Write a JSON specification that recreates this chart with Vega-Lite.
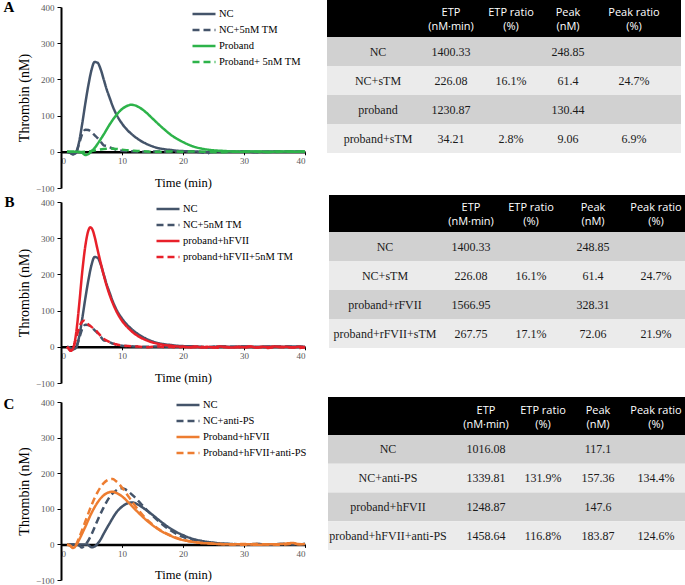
{
"$schema":"https://vega.github.io/schema/vega-lite/v6.json",
"padding":{"left":3,"top":0,"right":0,"bottom":0},
"config":{"view":{"stroke":null},
 "legend":{"title":null,"orient":"none","symbolType":"stroke","symbolSize":529,"symbolStrokeWidth":2.5,"labelFont":"Liberation Serif","labelFontSize":10.5,"labelColor":"black","labelOffset":2,"rowPadding":0,"clipHeight":16},
 "title":{"font":"Liberation Serif","fontSize":15,"fontWeight":"bold","color":"black"}
},
"datasets":{
"cA":[
{"s":"NC","t":1,"v":0},{"s":"NC","t":1.5,"v":-3},{"s":"NC","t":2,"v":-7},{"s":"NC","t":2.5,"v":-2},{"s":"NC","t":3,"v":30},{"s":"NC","t":3.5,"v":80},{"s":"NC","t":4,"v":135},{"s":"NC","t":4.5,"v":185},{"s":"NC","t":5,"v":226},{"s":"NC","t":5.5,"v":248},{"s":"NC","t":6,"v":246},{"s":"NC","t":6.5,"v":228},{"s":"NC","t":7,"v":200},{"s":"NC","t":7.5,"v":172},{"s":"NC","t":8,"v":148},{"s":"NC","t":8.5,"v":125},{"s":"NC","t":9,"v":106},{"s":"NC","t":10,"v":78},{"s":"NC","t":11,"v":58},{"s":"NC","t":12,"v":43},{"s":"NC","t":13,"v":31},{"s":"NC","t":14,"v":22},{"s":"NC","t":15,"v":15},{"s":"NC","t":16,"v":10},{"s":"NC","t":17,"v":7},{"s":"NC","t":18,"v":5},{"s":"NC","t":19,"v":3},{"s":"NC","t":20,"v":2},{"s":"NC","t":22,"v":1},{"s":"NC","t":24,"v":-1},{"s":"NC","t":26,"v":1},{"s":"NC","t":28,"v":0},{"s":"NC","t":30,"v":1},{"s":"NC","t":32,"v":0},{"s":"NC","t":34,"v":1},{"s":"NC","t":36,"v":0},{"s":"NC","t":38,"v":1},{"s":"NC","t":40,"v":0},
{"s":"NC+5nM TM","t":1,"v":0},{"s":"NC+5nM TM","t":1.5,"v":-3},{"s":"NC+5nM TM","t":2,"v":-7},{"s":"NC+5nM TM","t":2.5,"v":0},{"s":"NC+5nM TM","t":3,"v":25},{"s":"NC+5nM TM","t":3.5,"v":50},{"s":"NC+5nM TM","t":4,"v":61},{"s":"NC+5nM TM","t":4.5,"v":60},{"s":"NC+5nM TM","t":5,"v":54},{"s":"NC+5nM TM","t":5.5,"v":46},{"s":"NC+5nM TM","t":6,"v":38},{"s":"NC+5nM TM","t":6.5,"v":28},{"s":"NC+5nM TM","t":7,"v":18},{"s":"NC+5nM TM","t":7.5,"v":16},{"s":"NC+5nM TM","t":8,"v":12},{"s":"NC+5nM TM","t":8.5,"v":9},{"s":"NC+5nM TM","t":9,"v":6},{"s":"NC+5nM TM","t":10,"v":3},{"s":"NC+5nM TM","t":11,"v":2},{"s":"NC+5nM TM","t":12,"v":1},{"s":"NC+5nM TM","t":14,"v":0},{"s":"NC+5nM TM","t":16,"v":1},{"s":"NC+5nM TM","t":18,"v":0},{"s":"NC+5nM TM","t":20,"v":1},{"s":"NC+5nM TM","t":22,"v":0},{"s":"NC+5nM TM","t":23,"v":-1},{"s":"NC+5nM TM","t":24,"v":-5},{"s":"NC+5nM TM","t":24.5,"v":0},{"s":"NC+5nM TM","t":26,"v":1},{"s":"NC+5nM TM","t":28,"v":0},{"s":"NC+5nM TM","t":30,"v":1},{"s":"NC+5nM TM","t":32,"v":-1},{"s":"NC+5nM TM","t":34,"v":0},{"s":"NC+5nM TM","t":36,"v":1},{"s":"NC+5nM TM","t":38,"v":0},{"s":"NC+5nM TM","t":40,"v":0},
{"s":"Proband","t":1,"v":0},{"s":"Proband","t":2,"v":0},{"s":"Proband","t":3,"v":0},{"s":"Proband","t":3.5,"v":-3},{"s":"Proband","t":4,"v":-9},{"s":"Proband","t":4.5,"v":-6},{"s":"Proband","t":5,"v":2},{"s":"Proband","t":5.5,"v":10},{"s":"Proband","t":6,"v":22},{"s":"Proband","t":7,"v":48},{"s":"Proband","t":8,"v":76},{"s":"Proband","t":9,"v":100},{"s":"Proband","t":10,"v":118},{"s":"Proband","t":11,"v":128},{"s":"Proband","t":11.5,"v":130},{"s":"Proband","t":12,"v":129},{"s":"Proband","t":13,"v":121},{"s":"Proband","t":14,"v":108},{"s":"Proband","t":15,"v":92},{"s":"Proband","t":16,"v":76},{"s":"Proband","t":17,"v":61},{"s":"Proband","t":18,"v":47},{"s":"Proband","t":19,"v":36},{"s":"Proband","t":20,"v":27},{"s":"Proband","t":21,"v":19},{"s":"Proband","t":22,"v":13},{"s":"Proband","t":23,"v":9},{"s":"Proband","t":24,"v":6},{"s":"Proband","t":25,"v":4},{"s":"Proband","t":26,"v":3},{"s":"Proband","t":27,"v":2},{"s":"Proband","t":28,"v":1},{"s":"Proband","t":30,"v":0},{"s":"Proband","t":32,"v":1},{"s":"Proband","t":34,"v":0},{"s":"Proband","t":36,"v":1},{"s":"Proband","t":38,"v":0},{"s":"Proband","t":40,"v":1},
{"s":"Proband+ 5nM TM","t":1,"v":0},{"s":"Proband+ 5nM TM","t":2,"v":0},{"s":"Proband+ 5nM TM","t":3,"v":-1},{"s":"Proband+ 5nM TM","t":4,"v":0},{"s":"Proband+ 5nM TM","t":5,"v":2},{"s":"Proband+ 5nM TM","t":6,"v":5},{"s":"Proband+ 5nM TM","t":7,"v":8},{"s":"Proband+ 5nM TM","t":8,"v":9},{"s":"Proband+ 5nM TM","t":9,"v":8},{"s":"Proband+ 5nM TM","t":10,"v":6},{"s":"Proband+ 5nM TM","t":11,"v":4},{"s":"Proband+ 5nM TM","t":12,"v":3},{"s":"Proband+ 5nM TM","t":13,"v":2},{"s":"Proband+ 5nM TM","t":14,"v":1},{"s":"Proband+ 5nM TM","t":16,"v":0},{"s":"Proband+ 5nM TM","t":18,"v":1},{"s":"Proband+ 5nM TM","t":20,"v":0},{"s":"Proband+ 5nM TM","t":22,"v":1},{"s":"Proband+ 5nM TM","t":24,"v":0},{"s":"Proband+ 5nM TM","t":26,"v":-1},{"s":"Proband+ 5nM TM","t":28,"v":0},{"s":"Proband+ 5nM TM","t":30,"v":1},{"s":"Proband+ 5nM TM","t":32,"v":0},{"s":"Proband+ 5nM TM","t":34,"v":-1},{"s":"Proband+ 5nM TM","t":36,"v":0},{"s":"Proband+ 5nM TM","t":38,"v":1},{"s":"Proband+ 5nM TM","t":40,"v":0}
],
"cB":[
{"s":"NC","t":1,"v":0},{"s":"NC","t":1.5,"v":-3},{"s":"NC","t":2,"v":-7},{"s":"NC","t":2.5,"v":-2},{"s":"NC","t":3,"v":30},{"s":"NC","t":3.5,"v":80},{"s":"NC","t":4,"v":135},{"s":"NC","t":4.5,"v":185},{"s":"NC","t":5,"v":226},{"s":"NC","t":5.5,"v":248},{"s":"NC","t":6,"v":246},{"s":"NC","t":6.5,"v":228},{"s":"NC","t":7,"v":200},{"s":"NC","t":7.5,"v":172},{"s":"NC","t":8,"v":148},{"s":"NC","t":8.5,"v":125},{"s":"NC","t":9,"v":106},{"s":"NC","t":10,"v":78},{"s":"NC","t":11,"v":58},{"s":"NC","t":12,"v":43},{"s":"NC","t":13,"v":31},{"s":"NC","t":14,"v":22},{"s":"NC","t":15,"v":15},{"s":"NC","t":16,"v":10},{"s":"NC","t":17,"v":7},{"s":"NC","t":18,"v":5},{"s":"NC","t":19,"v":3},{"s":"NC","t":20,"v":2},{"s":"NC","t":22,"v":1},{"s":"NC","t":24,"v":-1},{"s":"NC","t":26,"v":1},{"s":"NC","t":28,"v":0},{"s":"NC","t":30,"v":1},{"s":"NC","t":32,"v":0},{"s":"NC","t":34,"v":1},{"s":"NC","t":36,"v":0},{"s":"NC","t":38,"v":1},{"s":"NC","t":40,"v":0},
{"s":"NC+5nM TM","t":1,"v":0},{"s":"NC+5nM TM","t":1.5,"v":-3},{"s":"NC+5nM TM","t":2,"v":-7},{"s":"NC+5nM TM","t":2.5,"v":0},{"s":"NC+5nM TM","t":3,"v":25},{"s":"NC+5nM TM","t":3.5,"v":50},{"s":"NC+5nM TM","t":4,"v":61},{"s":"NC+5nM TM","t":4.5,"v":60},{"s":"NC+5nM TM","t":5,"v":54},{"s":"NC+5nM TM","t":5.5,"v":46},{"s":"NC+5nM TM","t":6,"v":38},{"s":"NC+5nM TM","t":6.5,"v":28},{"s":"NC+5nM TM","t":7,"v":18},{"s":"NC+5nM TM","t":7.5,"v":16},{"s":"NC+5nM TM","t":8,"v":12},{"s":"NC+5nM TM","t":8.5,"v":9},{"s":"NC+5nM TM","t":9,"v":6},{"s":"NC+5nM TM","t":10,"v":3},{"s":"NC+5nM TM","t":11,"v":2},{"s":"NC+5nM TM","t":12,"v":1},{"s":"NC+5nM TM","t":14,"v":0},{"s":"NC+5nM TM","t":16,"v":1},{"s":"NC+5nM TM","t":18,"v":0},{"s":"NC+5nM TM","t":20,"v":1},{"s":"NC+5nM TM","t":22,"v":0},{"s":"NC+5nM TM","t":24,"v":-1},{"s":"NC+5nM TM","t":26,"v":1},{"s":"NC+5nM TM","t":28,"v":0},{"s":"NC+5nM TM","t":30,"v":1},{"s":"NC+5nM TM","t":32,"v":-1},{"s":"NC+5nM TM","t":34,"v":0},{"s":"NC+5nM TM","t":36,"v":1},{"s":"NC+5nM TM","t":38,"v":0},{"s":"NC+5nM TM","t":40,"v":0},
{"s":"proband+hFVII","t":1,"v":0},{"s":"proband+hFVII","t":1.3,"v":-6},{"s":"proband+hFVII","t":1.6,"v":-11},{"s":"proband+hFVII","t":2,"v":-4},{"s":"proband+hFVII","t":2.5,"v":40},{"s":"proband+hFVII","t":3,"v":120},{"s":"proband+hFVII","t":3.5,"v":210},{"s":"proband+hFVII","t":4,"v":280},{"s":"proband+hFVII","t":4.5,"v":322},{"s":"proband+hFVII","t":4.8,"v":330},{"s":"proband+hFVII","t":5.2,"v":322},{"s":"proband+hFVII","t":5.5,"v":305},{"s":"proband+hFVII","t":6,"v":268},{"s":"proband+hFVII","t":6.5,"v":232},{"s":"proband+hFVII","t":7,"v":198},{"s":"proband+hFVII","t":7.5,"v":168},{"s":"proband+hFVII","t":8,"v":142},{"s":"proband+hFVII","t":8.5,"v":120},{"s":"proband+hFVII","t":9,"v":101},{"s":"proband+hFVII","t":10,"v":72},{"s":"proband+hFVII","t":11,"v":52},{"s":"proband+hFVII","t":12,"v":37},{"s":"proband+hFVII","t":13,"v":26},{"s":"proband+hFVII","t":14,"v":18},{"s":"proband+hFVII","t":15,"v":12},{"s":"proband+hFVII","t":16,"v":8},{"s":"proband+hFVII","t":17,"v":5},{"s":"proband+hFVII","t":18,"v":3},{"s":"proband+hFVII","t":19,"v":1},{"s":"proband+hFVII","t":20,"v":0},{"s":"proband+hFVII","t":21,"v":-1},{"s":"proband+hFVII","t":22,"v":1},{"s":"proband+hFVII","t":23,"v":-2},{"s":"proband+hFVII","t":24,"v":0},{"s":"proband+hFVII","t":25,"v":-2},{"s":"proband+hFVII","t":26,"v":1},{"s":"proband+hFVII","t":27,"v":-1},{"s":"proband+hFVII","t":28,"v":-2},{"s":"proband+hFVII","t":29,"v":0},{"s":"proband+hFVII","t":30,"v":-1},{"s":"proband+hFVII","t":31,"v":1},{"s":"proband+hFVII","t":32,"v":-2},{"s":"proband+hFVII","t":33,"v":0},{"s":"proband+hFVII","t":34,"v":-1},{"s":"proband+hFVII","t":35,"v":1},{"s":"proband+hFVII","t":36,"v":-1},{"s":"proband+hFVII","t":37,"v":0},{"s":"proband+hFVII","t":38,"v":-2},{"s":"proband+hFVII","t":39,"v":0},{"s":"proband+hFVII","t":40,"v":-1},
{"s":"proband+hFVII+5nM TM","t":1,"v":0},{"s":"proband+hFVII+5nM TM","t":1.3,"v":-6},{"s":"proband+hFVII+5nM TM","t":1.6,"v":-11},{"s":"proband+hFVII+5nM TM","t":2,"v":-3},{"s":"proband+hFVII+5nM TM","t":2.5,"v":25},{"s":"proband+hFVII+5nM TM","t":3,"v":55},{"s":"proband+hFVII+5nM TM","t":3.5,"v":70},{"s":"proband+hFVII+5nM TM","t":3.8,"v":72},{"s":"proband+hFVII+5nM TM","t":4.2,"v":66},{"s":"proband+hFVII+5nM TM","t":4.6,"v":60},{"s":"proband+hFVII+5nM TM","t":5,"v":55},{"s":"proband+hFVII+5nM TM","t":5.5,"v":48},{"s":"proband+hFVII+5nM TM","t":6,"v":40},{"s":"proband+hFVII+5nM TM","t":6.5,"v":30},{"s":"proband+hFVII+5nM TM","t":7,"v":22},{"s":"proband+hFVII+5nM TM","t":7.5,"v":17},{"s":"proband+hFVII+5nM TM","t":8,"v":13},{"s":"proband+hFVII+5nM TM","t":8.5,"v":10},{"s":"proband+hFVII+5nM TM","t":9,"v":7},{"s":"proband+hFVII+5nM TM","t":10,"v":4},{"s":"proband+hFVII+5nM TM","t":11,"v":2},{"s":"proband+hFVII+5nM TM","t":12,"v":1},{"s":"proband+hFVII+5nM TM","t":13,"v":0},{"s":"proband+hFVII+5nM TM","t":14,"v":-1},{"s":"proband+hFVII+5nM TM","t":15,"v":0},{"s":"proband+hFVII+5nM TM","t":16,"v":1},{"s":"proband+hFVII+5nM TM","t":17,"v":-1},{"s":"proband+hFVII+5nM TM","t":18,"v":0},{"s":"proband+hFVII+5nM TM","t":19,"v":-2},{"s":"proband+hFVII+5nM TM","t":20,"v":0},{"s":"proband+hFVII+5nM TM","t":21,"v":-2},{"s":"proband+hFVII+5nM TM","t":22,"v":-1},{"s":"proband+hFVII+5nM TM","t":23,"v":0},{"s":"proband+hFVII+5nM TM","t":24,"v":-2},{"s":"proband+hFVII+5nM TM","t":25,"v":-1},{"s":"proband+hFVII+5nM TM","t":26,"v":-3},{"s":"proband+hFVII+5nM TM","t":27,"v":0},{"s":"proband+hFVII+5nM TM","t":28,"v":-2},{"s":"proband+hFVII+5nM TM","t":29,"v":-1},{"s":"proband+hFVII+5nM TM","t":30,"v":-3},{"s":"proband+hFVII+5nM TM","t":31,"v":0},{"s":"proband+hFVII+5nM TM","t":32,"v":-2},{"s":"proband+hFVII+5nM TM","t":33,"v":-1},{"s":"proband+hFVII+5nM TM","t":34,"v":-3},{"s":"proband+hFVII+5nM TM","t":35,"v":-1},{"s":"proband+hFVII+5nM TM","t":36,"v":0},{"s":"proband+hFVII+5nM TM","t":37,"v":-2},{"s":"proband+hFVII+5nM TM","t":38,"v":-1},{"s":"proband+hFVII+5nM TM","t":39,"v":-3},{"s":"proband+hFVII+5nM TM","t":40,"v":-1}
],
"cC":[
{"s":"NC","t":1,"v":0},{"s":"NC","t":2,"v":0},{"s":"NC","t":3,"v":0},{"s":"NC","t":4,"v":0},{"s":"NC","t":4.5,"v":-2},{"s":"NC","t":5,"v":-8},{"s":"NC","t":5.5,"v":-6},{"s":"NC","t":6,"v":2},{"s":"NC","t":6.5,"v":14},{"s":"NC","t":7,"v":30},{"s":"NC","t":8,"v":60},{"s":"NC","t":9,"v":88},{"s":"NC","t":10,"v":106},{"s":"NC","t":11,"v":116},{"s":"NC","t":11.7,"v":118},{"s":"NC","t":12.5,"v":113},{"s":"NC","t":13,"v":108},{"s":"NC","t":14,"v":96},{"s":"NC","t":15,"v":83},{"s":"NC","t":16,"v":69},{"s":"NC","t":17,"v":56},{"s":"NC","t":18,"v":44},{"s":"NC","t":19,"v":34},{"s":"NC","t":20,"v":26},{"s":"NC","t":21,"v":19},{"s":"NC","t":22,"v":14},{"s":"NC","t":23,"v":10},{"s":"NC","t":24,"v":7},{"s":"NC","t":25,"v":5},{"s":"NC","t":26,"v":3},{"s":"NC","t":27,"v":2},{"s":"NC","t":28,"v":1},{"s":"NC","t":30,"v":0},{"s":"NC","t":32,"v":1},{"s":"NC","t":34,"v":0},{"s":"NC","t":36,"v":1},{"s":"NC","t":38,"v":0},{"s":"NC","t":40,"v":1},
{"s":"NC+anti-PS","t":1,"v":0},{"s":"NC+anti-PS","t":2,"v":0},{"s":"NC+anti-PS","t":3,"v":-3},{"s":"NC+anti-PS","t":3.4,"v":-9},{"s":"NC+anti-PS","t":3.8,"v":-4},{"s":"NC+anti-PS","t":4.3,"v":6},{"s":"NC+anti-PS","t":5,"v":28},{"s":"NC+anti-PS","t":6,"v":68},{"s":"NC+anti-PS","t":7,"v":104},{"s":"NC+anti-PS","t":8,"v":134},{"s":"NC+anti-PS","t":9,"v":151},{"s":"NC+anti-PS","t":9.8,"v":158},{"s":"NC+anti-PS","t":10.5,"v":155},{"s":"NC+anti-PS","t":11,"v":149},{"s":"NC+anti-PS","t":12,"v":134},{"s":"NC+anti-PS","t":13,"v":116},{"s":"NC+anti-PS","t":14,"v":98},{"s":"NC+anti-PS","t":15,"v":81},{"s":"NC+anti-PS","t":16,"v":65},{"s":"NC+anti-PS","t":17,"v":51},{"s":"NC+anti-PS","t":18,"v":39},{"s":"NC+anti-PS","t":19,"v":29},{"s":"NC+anti-PS","t":20,"v":21},{"s":"NC+anti-PS","t":21,"v":15},{"s":"NC+anti-PS","t":22,"v":11},{"s":"NC+anti-PS","t":23,"v":8},{"s":"NC+anti-PS","t":24,"v":5},{"s":"NC+anti-PS","t":25,"v":4},{"s":"NC+anti-PS","t":26,"v":2},{"s":"NC+anti-PS","t":27,"v":1},{"s":"NC+anti-PS","t":28,"v":1},{"s":"NC+anti-PS","t":30,"v":0},{"s":"NC+anti-PS","t":32,"v":1},{"s":"NC+anti-PS","t":34,"v":0},{"s":"NC+anti-PS","t":36,"v":1},{"s":"NC+anti-PS","t":38,"v":3},{"s":"NC+anti-PS","t":39,"v":0},{"s":"NC+anti-PS","t":40,"v":1},
{"s":"Proband+hFVII","t":1,"v":0},{"s":"Proband+hFVII","t":1.5,"v":-3},{"s":"Proband+hFVII","t":2,"v":-10},{"s":"Proband+hFVII","t":2.5,"v":-2},{"s":"Proband+hFVII","t":3,"v":14},{"s":"Proband+hFVII","t":4,"v":50},{"s":"Proband+hFVII","t":5,"v":88},{"s":"Proband+hFVII","t":6,"v":118},{"s":"Proband+hFVII","t":7,"v":138},{"s":"Proband+hFVII","t":8,"v":147},{"s":"Proband+hFVII","t":8.5,"v":148},{"s":"Proband+hFVII","t":9,"v":145},{"s":"Proband+hFVII","t":10,"v":135},{"s":"Proband+hFVII","t":11,"v":119},{"s":"Proband+hFVII","t":12,"v":101},{"s":"Proband+hFVII","t":13,"v":84},{"s":"Proband+hFVII","t":14,"v":68},{"s":"Proband+hFVII","t":15,"v":54},{"s":"Proband+hFVII","t":16,"v":42},{"s":"Proband+hFVII","t":17,"v":32},{"s":"Proband+hFVII","t":18,"v":24},{"s":"Proband+hFVII","t":19,"v":17},{"s":"Proband+hFVII","t":20,"v":12},{"s":"Proband+hFVII","t":21,"v":9},{"s":"Proband+hFVII","t":22,"v":6},{"s":"Proband+hFVII","t":23,"v":4},{"s":"Proband+hFVII","t":24,"v":3},{"s":"Proband+hFVII","t":26,"v":1},{"s":"Proband+hFVII","t":28,"v":0},{"s":"Proband+hFVII","t":30,"v":1},{"s":"Proband+hFVII","t":32,"v":-1},{"s":"Proband+hFVII","t":34,"v":0},{"s":"Proband+hFVII","t":36,"v":1},{"s":"Proband+hFVII","t":38,"v":4},{"s":"Proband+hFVII","t":39,"v":0},{"s":"Proband+hFVII","t":40,"v":1},
{"s":"Proband+hFVII+anti-PS","t":1,"v":0},{"s":"Proband+hFVII+anti-PS","t":1.5,"v":-4},{"s":"Proband+hFVII+anti-PS","t":2,"v":-10},{"s":"Proband+hFVII+anti-PS","t":2.5,"v":0},{"s":"Proband+hFVII+anti-PS","t":3,"v":20},{"s":"Proband+hFVII+anti-PS","t":4,"v":65},{"s":"Proband+hFVII+anti-PS","t":5,"v":110},{"s":"Proband+hFVII+anti-PS","t":6,"v":147},{"s":"Proband+hFVII+anti-PS","t":7,"v":172},{"s":"Proband+hFVII+anti-PS","t":8,"v":183},{"s":"Proband+hFVII+anti-PS","t":8.5,"v":184},{"s":"Proband+hFVII+anti-PS","t":9,"v":178},{"s":"Proband+hFVII+anti-PS","t":10,"v":160},{"s":"Proband+hFVII+anti-PS","t":11,"v":136},{"s":"Proband+hFVII+anti-PS","t":12,"v":112},{"s":"Proband+hFVII+anti-PS","t":13,"v":90},{"s":"Proband+hFVII+anti-PS","t":14,"v":71},{"s":"Proband+hFVII+anti-PS","t":15,"v":56},{"s":"Proband+hFVII+anti-PS","t":16,"v":43},{"s":"Proband+hFVII+anti-PS","t":17,"v":33},{"s":"Proband+hFVII+anti-PS","t":18,"v":25},{"s":"Proband+hFVII+anti-PS","t":19,"v":18},{"s":"Proband+hFVII+anti-PS","t":20,"v":13},{"s":"Proband+hFVII+anti-PS","t":21,"v":9},{"s":"Proband+hFVII+anti-PS","t":22,"v":6},{"s":"Proband+hFVII+anti-PS","t":23,"v":4},{"s":"Proband+hFVII+anti-PS","t":24,"v":3},{"s":"Proband+hFVII+anti-PS","t":26,"v":1},{"s":"Proband+hFVII+anti-PS","t":28,"v":0},{"s":"Proband+hFVII+anti-PS","t":30,"v":-1},{"s":"Proband+hFVII+anti-PS","t":32,"v":1},{"s":"Proband+hFVII+anti-PS","t":34,"v":0},{"s":"Proband+hFVII+anti-PS","t":36,"v":-1},{"s":"Proband+hFVII+anti-PS","t":38,"v":2},{"s":"Proband+hFVII+anti-PS","t":40,"v":0}
],
"hdr":[{"col":1,"h":"ETP\n(nM·min)"},{"col":2,"h":"ETP ratio\n(%)"},{"col":3,"h":"Peak\n(nM)"},{"col":4,"h":"Peak ratio\n(%)"}],
"tA":[
{"row":"NC","col":0,"text":"NC"},{"row":"NC","col":1,"text":"1400.33"},{"row":"NC","col":3,"text":"248.85"},
{"row":"NC+sTM","col":0,"text":"NC+sTM"},{"row":"NC+sTM","col":1,"text":"226.08"},{"row":"NC+sTM","col":2,"text":"16.1%"},{"row":"NC+sTM","col":3,"text":"61.4"},{"row":"NC+sTM","col":4,"text":"24.7%"},
{"row":"proband","col":0,"text":"proband"},{"row":"proband","col":1,"text":"1230.87"},{"row":"proband","col":3,"text":"130.44"},
{"row":"proband+sTM","col":0,"text":"proband+sTM"},{"row":"proband+sTM","col":1,"text":"34.21"},{"row":"proband+sTM","col":2,"text":"2.8%"},{"row":"proband+sTM","col":3,"text":"9.06"},{"row":"proband+sTM","col":4,"text":"6.9%"}
],
"tB":[
{"row":"NC","col":0,"text":"NC"},{"row":"NC","col":1,"text":"1400.33"},{"row":"NC","col":3,"text":"248.85"},
{"row":"NC+sTM","col":0,"text":"NC+sTM"},{"row":"NC+sTM","col":1,"text":"226.08"},{"row":"NC+sTM","col":2,"text":"16.1%"},{"row":"NC+sTM","col":3,"text":"61.4"},{"row":"NC+sTM","col":4,"text":"24.7%"},
{"row":"proband+rFVII","col":0,"text":"proband+rFVII"},{"row":"proband+rFVII","col":1,"text":"1566.95"},{"row":"proband+rFVII","col":3,"text":"328.31"},
{"row":"proband+rFVII+sTM","col":0,"text":"proband+rFVII+sTM"},{"row":"proband+rFVII+sTM","col":1,"text":"267.75"},{"row":"proband+rFVII+sTM","col":2,"text":"17.1%"},{"row":"proband+rFVII+sTM","col":3,"text":"72.06"},{"row":"proband+rFVII+sTM","col":4,"text":"21.9%"}
],
"tC":[
{"row":"NC","col":0,"text":"NC"},{"row":"NC","col":1,"text":"1016.08"},{"row":"NC","col":3,"text":"117.1"},
{"row":"NC+anti-PS","col":0,"text":"NC+anti-PS"},{"row":"NC+anti-PS","col":1,"text":"1339.81"},{"row":"NC+anti-PS","col":2,"text":"131.9%"},{"row":"NC+anti-PS","col":3,"text":"157.36"},{"row":"NC+anti-PS","col":4,"text":"134.4%"},
{"row":"proband+hFVII","col":0,"text":"proband+hFVII"},{"row":"proband+hFVII","col":1,"text":"1248.87"},{"row":"proband+hFVII","col":3,"text":"147.6"},
{"row":"proband+hFVII+anti-PS","col":0,"text":"proband+hFVII+anti-PS"},{"row":"proband+hFVII+anti-PS","col":1,"text":"1458.64"},{"row":"proband+hFVII+anti-PS","col":2,"text":"116.8%"},{"row":"proband+hFVII+anti-PS","col":3,"text":"183.87"},{"row":"proband+hFVII+anti-PS","col":4,"text":"124.6%"}
]
},
"resolve":{"scale":{"color":"independent","strokeDash":"independent","x":"independent","y":"independent"},"legend":{"color":"independent","strokeDash":"independent"}},
"spacing":2,
"vconcat":[
{"spacing":17,
 "resolve":{"scale":{"color":"independent","strokeDash":"independent","x":"independent","y":"independent"},"legend":{"color":"independent","strokeDash":"independent"}},
 "hconcat":[
 {"width":244,"height":188,"data":{"name":"cA"},
  "title":{"text":"A","orient":"left","anchor":"end","angle":0,"align":"left","baseline":"top","offset":3},
  "mark":{"type":"line","strokeWidth":2.5,"interpolate":"monotone"},
  "encoding":{
   "x":{"field":"t","type":"quantitative","scale":{"domain":[0,40],"nice":false},"axis":{"values":[0,10,20,30,40],"title":"Time (min)","offset":-36.2,"grid":false,"domainColor":"black","domainWidth":2.5,"tickColor":"black","tickSize":3,"labelFont":"Liberation Serif","labelFontSize":9,"labelColor":"#595959","labelPadding":2,"titleFont":"Liberation Serif","titleFontSize":12.5,"titleFontWeight":"normal","titleColor":"black","titlePadding":11}},
   "y":{"field":"v","type":"quantitative","scale":{"domain":[-100,400],"range":[188,7],"nice":false,"zero":false},"axis":{"values":[-100,0,100,200,300,400],"title":"Thrombin (nM)","grid":false,"domainColor":"black","domainWidth":2,"tickColor":"black","tickSize":4,"labelFont":"Liberation Serif","labelFontSize":9,"labelColor":"#595959","labelPadding":3,"titleFont":"Liberation Serif","titleFontSize":14,"titleFontWeight":"normal","titleColor":"black","titlePadding":4}},
   "color":{"field":"s","type":"nominal","scale":{"domain":["NC","NC+5nM TM","Proband","Proband+ 5nM TM"],"range":["#44546A","#44546A","#2DB34A","#2DB34A"]},"legend":{"legendX":130,"legendY":6,"clipHeight":16,"rowPadding":0}},
   "strokeDash":{"field":"s","type":"nominal","scale":{"domain":["NC","NC+5nM TM","Proband","Proband+ 5nM TM"],"range":[[1,0],[7,4],[1,0],[7,4]]},"legend":{"legendX":130,"legendY":6,"clipHeight":16,"rowPadding":0}}
  }},
 {"spacing":0,"vconcat":[
  {"width":354,"height":37,"view":{"fill":"black","stroke":null},"data":{"name":"hdr"},
   "mark":{"type":"text","color":"white","font":"Open Sans","fontSize":11,"lineBreak":"\n","lineHeight":14,"baseline":"middle","align":"center","dy":-5.5},
   "encoding":{"x":{"field":"col","type":"quantitative","scale":{"domain":[1,2,3,4],"range":[124,184,241,307],"nice":false,"zero":false},"axis":null},"text":{"field":"h"}}},
  {"width":354,"height":116,"data":{"name":"tA"},
   "encoding":{"y":{"field":"row","type":"nominal","sort":null,"axis":null,"scale":{"paddingInner":0,"paddingOuter":0}}},
   "layer":[
    {"transform":[{"filter":"datum.col == 0"}],"mark":{"type":"rect"},"encoding":{"color":{"field":"row","type":"nominal","sort":null,"scale":{"range":["#d1d1d1","#ebebeb","#d1d1d1","#ebebeb"]},"legend":null}}},
    {"mark":{"type":"text","font":"Liberation Serif","fontSize":12,"color":"#1a1a1a","align":"center","baseline":"middle"},
     "encoding":{"x":{"field":"col","type":"quantitative","scale":{"domain":[0,1,2,3,4],"range":[51,124,184,241,307],"nice":false,"zero":false},"axis":null},"text":{"field":"text"}}}
   ]}
 ]}
 ]},
{"spacing":9,
 "resolve":{"scale":{"color":"independent","strokeDash":"independent","x":"independent","y":"independent"},"legend":{"color":"independent","strokeDash":"independent"}},
 "vconcat":[
{"spacing":19,
 "resolve":{"scale":{"color":"independent","strokeDash":"independent","x":"independent","y":"independent"},"legend":{"color":"independent","strokeDash":"independent"}},
 "hconcat":[
 {"width":244,"height":188,"data":{"name":"cB"},
  "title":{"text":"B","orient":"left","anchor":"end","angle":0,"align":"left","baseline":"top","offset":3},
  "mark":{"type":"line","strokeWidth":2.5,"interpolate":"monotone"},
  "encoding":{
   "x":{"field":"t","type":"quantitative","scale":{"domain":[0,40],"nice":false},"axis":{"values":[0,10,20,30,40],"title":"Time (min)","offset":-36.2,"grid":false,"domainColor":"black","domainWidth":2.5,"tickColor":"black","tickSize":3,"labelFont":"Liberation Serif","labelFontSize":9,"labelColor":"#595959","labelPadding":2,"titleFont":"Liberation Serif","titleFontSize":12.5,"titleFontWeight":"normal","titleColor":"black","titlePadding":11}},
   "y":{"field":"v","type":"quantitative","scale":{"domain":[-100,400],"range":[188,7],"nice":false,"zero":false},"axis":{"values":[-100,0,100,200,300,400],"title":"Thrombin (nM)","grid":false,"domainColor":"black","domainWidth":2,"tickColor":"black","tickSize":4,"labelFont":"Liberation Serif","labelFontSize":9,"labelColor":"#595959","labelPadding":3,"titleFont":"Liberation Serif","titleFontSize":14,"titleFontWeight":"normal","titleColor":"black","titlePadding":4}},
   "color":{"field":"s","type":"nominal","scale":{"domain":["NC","NC+5nM TM","proband+hFVII","proband+hFVII+5nM TM"],"range":["#44546A","#44546A","#E8202A","#E8202A"]},"legend":{"legendX":94,"legendY":6,"clipHeight":16,"rowPadding":0}},
   "strokeDash":{"field":"s","type":"nominal","scale":{"domain":["NC","NC+5nM TM","proband+hFVII","proband+hFVII+5nM TM"],"range":[[1,0],[7,4],[1,0],[7,4]]},"legend":{"legendX":94,"legendY":6,"clipHeight":16,"rowPadding":0}}
  }},
 {"spacing":0,"vconcat":[
  {"width":359,"height":37,"view":{"fill":"black","stroke":null},"data":{"name":"hdr"},
   "mark":{"type":"text","color":"white","font":"Open Sans","fontSize":11,"lineBreak":"\n","lineHeight":14,"baseline":"middle","align":"center","dy":-5.5},
   "encoding":{"x":{"field":"col","type":"quantitative","scale":{"domain":[1,2,3,4],"range":[142,202,264,327],"nice":false,"zero":false},"axis":null},"text":{"field":"h"}}},
  {"width":359,"height":116,"data":{"name":"tB"},
   "encoding":{"y":{"field":"row","type":"nominal","sort":null,"axis":null,"scale":{"paddingInner":0,"paddingOuter":0}}},
   "layer":[
    {"transform":[{"filter":"datum.col == 0"}],"mark":{"type":"rect"},"encoding":{"color":{"field":"row","type":"nominal","sort":null,"scale":{"range":["#d1d1d1","#ebebeb","#d1d1d1","#ebebeb"]},"legend":null}}},
    {"mark":{"type":"text","font":"Liberation Serif","fontSize":12,"color":"#1a1a1a","align":"center","baseline":"middle"},
     "encoding":{"x":{"field":"col","type":"quantitative","scale":{"domain":[0,1,2,3,4],"range":[56,142,202,264,327],"nice":false,"zero":false},"axis":null},"text":{"field":"text"}}}
   ]}
 ]}
 ]},
{"spacing":18,
 "resolve":{"scale":{"color":"independent","strokeDash":"independent","x":"independent","y":"independent"},"legend":{"color":"independent","strokeDash":"independent"}},
 "hconcat":[
 {"width":244,"height":183,"data":{"name":"cC"},
  "title":{"text":"C","orient":"left","anchor":"end","angle":0,"align":"left","baseline":"top","offset":3},
  "mark":{"type":"line","strokeWidth":2.5,"interpolate":"monotone"},
  "encoding":{
   "x":{"field":"t","type":"quantitative","scale":{"domain":[0,40],"nice":false},"axis":{"values":[0,10,20,30,40],"title":"Time (min)","offset":-35.6,"grid":false,"domainColor":"black","domainWidth":2.5,"tickColor":"black","tickSize":3,"labelFont":"Liberation Serif","labelFontSize":9,"labelColor":"#595959","labelPadding":2,"titleFont":"Liberation Serif","titleFontSize":12.5,"titleFontWeight":"normal","titleColor":"black","titlePadding":10}},
   "y":{"field":"v","type":"quantitative","scale":{"domain":[-100,400],"range":[183,5],"nice":false,"zero":false},"axis":{"values":[-100,0,100,200,300,400],"title":"Thrombin (nM)","grid":false,"domainColor":"black","domainWidth":2,"tickColor":"black","tickSize":4,"labelFont":"Liberation Serif","labelFontSize":9,"labelColor":"#595959","labelPadding":3,"titleFont":"Liberation Serif","titleFontSize":14,"titleFontWeight":"normal","titleColor":"black","titlePadding":4}},
   "color":{"field":"s","type":"nominal","scale":{"domain":["NC","NC+anti-PS","Proband+hFVII","Proband+hFVII+anti-PS"],"range":["#44546A","#44546A","#ED7D31","#ED7D31"]},"legend":{"legendX":114,"legendY":0,"clipHeight":16,"rowPadding":0}},
   "strokeDash":{"field":"s","type":"nominal","scale":{"domain":["NC","NC+anti-PS","Proband+hFVII","Proband+hFVII+anti-PS"],"range":[[1,0],[7,4],[1,0],[7,4]]},"legend":{"legendX":114,"legendY":0,"clipHeight":16,"rowPadding":0}}
  }},
 {"spacing":0,"vconcat":[
  {"width":360,"height":38,"view":{"fill":"black","stroke":null},"data":{"name":"hdr"},
   "mark":{"type":"text","color":"white","font":"Open Sans","fontSize":11,"lineBreak":"\n","lineHeight":14,"baseline":"middle","align":"center","dy":-5.5},
   "encoding":{"x":{"field":"col","type":"quantitative","scale":{"domain":[1,2,3,4],"range":[158,215,270,328],"nice":false,"zero":false},"axis":null},"text":{"field":"h"}}},
  {"width":360,"height":115,"data":{"name":"tC"},
   "encoding":{"y":{"field":"row","type":"nominal","sort":null,"axis":null,"scale":{"paddingInner":0,"paddingOuter":0}}},
   "layer":[
    {"transform":[{"filter":"datum.col == 0"}],"mark":{"type":"rect"},"encoding":{"color":{"field":"row","type":"nominal","sort":null,"scale":{"range":["#d1d1d1","#ebebeb","#d1d1d1","#ebebeb"]},"legend":null}}},
    {"mark":{"type":"text","font":"Liberation Serif","fontSize":12,"color":"#1a1a1a","align":"center","baseline":"middle"},
     "encoding":{"x":{"field":"col","type":"quantitative","scale":{"domain":[0,1,2,3,4],"range":[60,158,215,270,328],"nice":false,"zero":false},"axis":null},"text":{"field":"text"}}}
   ]}
 ]}
 ]}
 ]}
]
}
